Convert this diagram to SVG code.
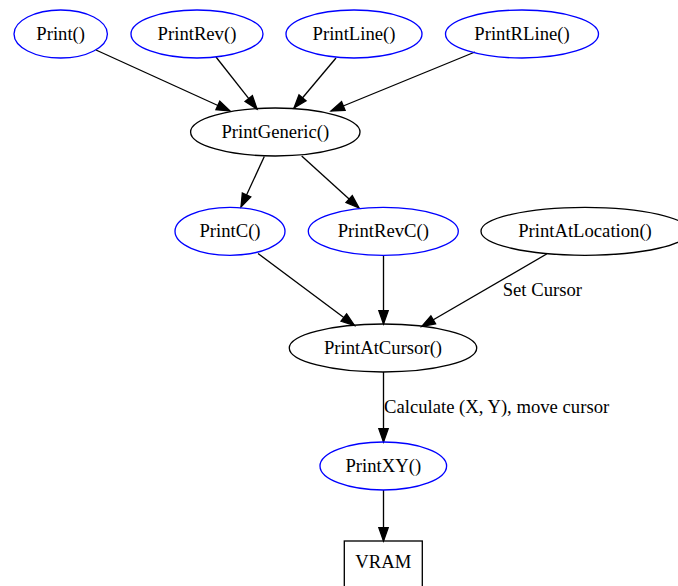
<svg xmlns="http://www.w3.org/2000/svg" width="678" height="586" viewBox="0 0 678 586">
<style>
  .bg { fill: #ffffff; }
  .blue { fill: none; stroke: #0000ff; stroke-width: 1.33; }
  .black { fill: none; stroke: #000000; stroke-width: 1.33; }
  .t { font-family: "Liberation Serif", "Times New Roman", serif; font-size: 18.67px; fill: #000000; text-anchor: middle; }
  .lbl { font-family: "Liberation Serif", "Times New Roman", serif; font-size: 18.67px; fill: #000000; text-anchor: start; }
  .edge { fill: none; stroke: #000000; stroke-width: 1.33; marker-end: url(#arr); }
</style>
<defs>
  <marker id="arr" markerUnits="userSpaceOnUse" markerWidth="14" markerHeight="10" refX="13.33" refY="4.67" orient="auto" overflow="visible">
    <path d="M0,0 L13.33,4.67 L0,9.33 Z" fill="#000000" stroke="#000000" stroke-width="1.33"/>
  </marker>
</defs>
<rect class="bg" x="0" y="0" width="678" height="586"/>
<g id="connectors">
  <line class="edge" x1="96" y1="50" x2="230" y2="111"/>
  <line class="edge" x1="216" y1="57" x2="257" y2="109"/>
  <line class="edge" x1="336" y1="58" x2="294" y2="108"/>
  <line class="edge" x1="475" y1="52" x2="331" y2="111"/>
  <line class="edge" x1="264.3" y1="156.5" x2="241" y2="207"/>
  <line class="edge" x1="301.7" y1="156" x2="359" y2="208"/>
  <line class="edge" x1="258" y1="253.5" x2="354.5" y2="325.5"/>
  <line class="edge" x1="383.5" y1="255.5" x2="383.5" y2="324"/>
  <line class="edge" x1="546.7" y1="254" x2="421.7" y2="326.5"/>
  <text class="lbl" x="502.7" y="296">Set Cursor</text>
  <line class="edge" x1="383.5" y1="372" x2="383.5" y2="442"/>
  <text class="lbl" x="384" y="413">Calculate (X, Y), move cursor</text>
  <line class="edge" x1="383.5" y1="490" x2="383.5" y2="541"/>
</g>
<g id="node-print">
  <ellipse class="blue" cx="60.7" cy="34" rx="46.7" ry="24"/>
  <text class="t" x="60.7" y="40">Print()</text>
</g>
<g id="node-printrev">
  <ellipse class="blue" cx="197" cy="34" rx="66" ry="24"/>
  <text class="t" x="197" y="40">PrintRev()</text>
</g>
<g id="node-printline">
  <ellipse class="blue" cx="354" cy="34" rx="68" ry="24"/>
  <text class="t" x="354" y="40">PrintLine()</text>
</g>
<g id="node-printrline">
  <ellipse class="blue" cx="522" cy="34" rx="76.5" ry="24"/>
  <text class="t" x="522" y="40">PrintRLine()</text>
</g>
<g id="node-printgeneric">
  <ellipse class="black" cx="275.3" cy="132" rx="84.7" ry="24"/>
  <text class="t" x="275.3" y="138">PrintGeneric()</text>
</g>
<g id="node-printc">
  <ellipse class="blue" cx="230" cy="231.3" rx="55" ry="24"/>
  <text class="t" x="230" y="237.3">PrintC()</text>
</g>
<g id="node-printrevc">
  <ellipse class="blue" cx="383.3" cy="231.3" rx="75" ry="24"/>
  <text class="t" x="383.3" y="237.3">PrintRevC()</text>
</g>
<g id="node-printatlocation">
  <ellipse class="black" cx="585" cy="231.3" rx="104" ry="24"/>
  <text class="t" x="585" y="237.3">PrintAtLocation()</text>
</g>
<g id="node-printatcursor">
  <ellipse class="black" cx="383" cy="348" rx="93.7" ry="24"/>
  <text class="t" x="383" y="354">PrintAtCursor()</text>
</g>
<g id="node-printxy">
  <ellipse class="blue" cx="383.3" cy="466" rx="63.3" ry="24"/>
  <text class="t" x="383.3" y="472">PrintXY()</text>
</g>
<g id="node-vram">
  <rect class="black" x="344.3" y="541" width="78" height="48"/>
  <text class="t" x="383.3" y="567.5">VRAM</text>
</g>
</svg>
